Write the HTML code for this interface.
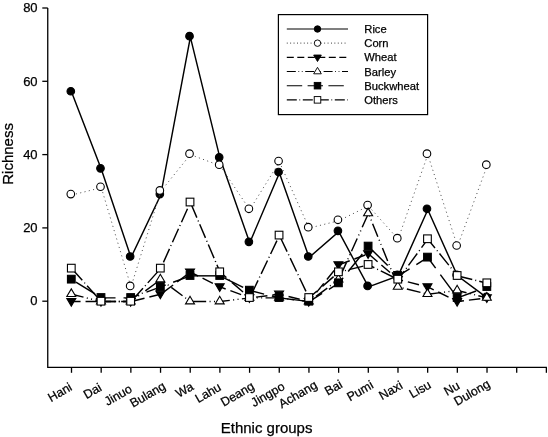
<!DOCTYPE html>
<html><head><meta charset="utf-8"><title>Richness by ethnic group</title>
<style>html,body{margin:0;padding:0;background:#fff;}svg{display:block;will-change:transform;}text{font-family:"Liberation Sans",sans-serif;fill:#000;stroke:#000;stroke-width:0.25px;}</style>
</head><body>
<svg width="548" height="437" viewBox="0 0 548 437">
<rect width="548" height="437" fill="#fff"/>
<path d="M47.75 8.00V367.3H546.9" fill="none" stroke="#000" stroke-width="1.3"/>
<line x1="42.3" y1="301.20" x2="47.75" y2="301.20" stroke="#000" stroke-width="1.3"/>
<text x="37.6" y="305.45" text-anchor="end" font-size="13">0</text>
<line x1="42.3" y1="227.90" x2="47.75" y2="227.90" stroke="#000" stroke-width="1.3"/>
<text x="37.6" y="232.15" text-anchor="end" font-size="13">20</text>
<line x1="42.3" y1="154.60" x2="47.75" y2="154.60" stroke="#000" stroke-width="1.3"/>
<text x="37.6" y="158.85" text-anchor="end" font-size="13">40</text>
<line x1="42.3" y1="81.30" x2="47.75" y2="81.30" stroke="#000" stroke-width="1.3"/>
<text x="37.6" y="85.55" text-anchor="end" font-size="13">60</text>
<line x1="42.3" y1="8.00" x2="47.75" y2="8.00" stroke="#000" stroke-width="1.3"/>
<text x="37.6" y="12.25" text-anchor="end" font-size="13">80</text>
<line x1="71.50" y1="367.3" x2="71.50" y2="372.8" stroke="#000" stroke-width="1.3"/>
<line x1="101.18" y1="367.3" x2="101.18" y2="372.8" stroke="#000" stroke-width="1.3"/>
<line x1="130.86" y1="367.3" x2="130.86" y2="372.8" stroke="#000" stroke-width="1.3"/>
<line x1="160.54" y1="367.3" x2="160.54" y2="372.8" stroke="#000" stroke-width="1.3"/>
<line x1="190.22" y1="367.3" x2="190.22" y2="372.8" stroke="#000" stroke-width="1.3"/>
<line x1="219.90" y1="367.3" x2="219.90" y2="372.8" stroke="#000" stroke-width="1.3"/>
<line x1="249.58" y1="367.3" x2="249.58" y2="372.8" stroke="#000" stroke-width="1.3"/>
<line x1="279.26" y1="367.3" x2="279.26" y2="372.8" stroke="#000" stroke-width="1.3"/>
<line x1="308.94" y1="367.3" x2="308.94" y2="372.8" stroke="#000" stroke-width="1.3"/>
<line x1="338.62" y1="367.3" x2="338.62" y2="372.8" stroke="#000" stroke-width="1.3"/>
<line x1="368.30" y1="367.3" x2="368.30" y2="372.8" stroke="#000" stroke-width="1.3"/>
<line x1="397.98" y1="367.3" x2="397.98" y2="372.8" stroke="#000" stroke-width="1.3"/>
<line x1="427.66" y1="367.3" x2="427.66" y2="372.8" stroke="#000" stroke-width="1.3"/>
<line x1="457.34" y1="367.3" x2="457.34" y2="372.8" stroke="#000" stroke-width="1.3"/>
<line x1="487.02" y1="367.3" x2="487.02" y2="372.8" stroke="#000" stroke-width="1.3"/>
<line x1="516.70" y1="367.3" x2="516.70" y2="372.8" stroke="#000" stroke-width="1.3"/>
<line x1="546.38" y1="367.3" x2="546.38" y2="372.8" stroke="#000" stroke-width="1.3"/>
<text x="73.00" y="389.5" text-anchor="end" font-size="12.4" transform="rotate(-30 73.00 389.5)">Hani</text>
<text x="102.68" y="390" text-anchor="end" font-size="12.4" transform="rotate(-30 102.68 390)">Dai</text>
<text x="133.06" y="391.3" text-anchor="end" font-size="12.4" transform="rotate(-30 133.06 391.3)">Jinuo</text>
<text x="166.54" y="388.5" text-anchor="end" font-size="12.4" transform="rotate(-30 166.54 388.5)">Bulang</text>
<text x="194.42" y="389" text-anchor="end" font-size="12.4" transform="rotate(-30 194.42 389)">Wa</text>
<text x="222.10" y="389.5" text-anchor="end" font-size="12.4" transform="rotate(-30 222.10 389.5)">Lahu</text>
<text x="255.28" y="388.6" text-anchor="end" font-size="12.4" transform="rotate(-30 255.28 388.6)">Deang</text>
<text x="285.76" y="388.9" text-anchor="end" font-size="12.4" transform="rotate(-30 285.76 388.9)">Jingpo</text>
<text x="318.14" y="387.4" text-anchor="end" font-size="12.4" transform="rotate(-30 318.14 387.4)">Achang</text>
<text x="343.32" y="386.8" text-anchor="end" font-size="12.4" transform="rotate(-30 343.32 386.8)">Bai</text>
<text x="374.40" y="387.4" text-anchor="end" font-size="12.4" transform="rotate(-30 374.40 387.4)">Pumi</text>
<text x="403.58" y="387.8" text-anchor="end" font-size="12.4" transform="rotate(-30 403.58 387.8)">Naxi</text>
<text x="432.06" y="387.2" text-anchor="end" font-size="12.4" transform="rotate(-30 432.06 387.2)">Lisu</text>
<text x="460.64" y="388.1" text-anchor="end" font-size="12.4" transform="rotate(-30 460.64 388.1)">Nu</text>
<text x="490.92" y="386.4" text-anchor="end" font-size="12.4" transform="rotate(-30 490.92 386.4)">Dulong</text>
<text x="266.6" y="433" text-anchor="middle" font-size="15">Ethnic groups</text>
<text transform="translate(12.6 153.9) rotate(-90)" text-anchor="middle" font-size="15">Richness</text>
<polyline points="71.65,92.19 101.33,169.32 131.01,257.47 160.69,195.03 190.37,37.09 220.05,158.30 249.73,242.78 279.41,172.99 309.09,257.47 338.77,231.76 368.45,286.86 398.13,275.84 427.81,209.72 457.49,275.84 487.17,297.88" fill="none" stroke="#000" stroke-width="1.45"/>
<circle cx="70.80" cy="91.24" r="3.80" fill="#000" stroke="#000" stroke-width="1.10"/>
<circle cx="100.48" cy="168.37" r="3.80" fill="#000" stroke="#000" stroke-width="1.10"/>
<circle cx="130.16" cy="256.52" r="3.80" fill="#000" stroke="#000" stroke-width="1.10"/>
<circle cx="159.84" cy="194.08" r="3.80" fill="#000" stroke="#000" stroke-width="1.10"/>
<circle cx="189.52" cy="36.14" r="3.80" fill="#000" stroke="#000" stroke-width="1.10"/>
<circle cx="219.20" cy="157.35" r="3.80" fill="#000" stroke="#000" stroke-width="1.10"/>
<circle cx="248.88" cy="241.83" r="3.80" fill="#000" stroke="#000" stroke-width="1.10"/>
<circle cx="278.56" cy="172.04" r="3.80" fill="#000" stroke="#000" stroke-width="1.10"/>
<circle cx="308.24" cy="256.52" r="3.80" fill="#000" stroke="#000" stroke-width="1.10"/>
<circle cx="337.92" cy="230.81" r="3.80" fill="#000" stroke="#000" stroke-width="1.10"/>
<circle cx="367.60" cy="285.91" r="3.80" fill="#000" stroke="#000" stroke-width="1.10"/>
<circle cx="397.28" cy="274.89" r="3.80" fill="#000" stroke="#000" stroke-width="1.10"/>
<circle cx="426.96" cy="208.78" r="3.80" fill="#000" stroke="#000" stroke-width="1.10"/>
<circle cx="456.64" cy="274.89" r="3.80" fill="#000" stroke="#000" stroke-width="1.10"/>
<circle cx="486.32" cy="296.93" r="3.80" fill="#000" stroke="#000" stroke-width="1.10"/>
<line x1="71.65" y1="195.03" x2="101.33" y2="187.69" stroke="#555" stroke-width="1.0" stroke-dasharray="1.1 3.3" stroke-dashoffset="0.00"/>
<line x1="101.33" y1="187.69" x2="131.01" y2="286.86" stroke="#555" stroke-width="1.0" stroke-dasharray="1.1 3.3" stroke-dashoffset="4.18"/>
<line x1="131.01" y1="286.86" x2="160.69" y2="191.36" stroke="#555" stroke-width="1.0" stroke-dasharray="1.1 3.3" stroke-dashoffset="2.09"/>
<line x1="160.69" y1="191.36" x2="190.37" y2="154.63" stroke="#555" stroke-width="1.0" stroke-dasharray="1.1 3.3" stroke-dashoffset="0.90"/>
<line x1="190.37" y1="154.63" x2="220.05" y2="165.65" stroke="#555" stroke-width="1.0" stroke-dasharray="1.1 3.3" stroke-dashoffset="4.12"/>
<line x1="220.05" y1="165.65" x2="249.73" y2="209.72" stroke="#555" stroke-width="1.0" stroke-dasharray="1.1 3.3" stroke-dashoffset="0.58"/>
<line x1="249.73" y1="209.72" x2="279.41" y2="161.98" stroke="#555" stroke-width="1.0" stroke-dasharray="1.1 3.3" stroke-dashoffset="0.92"/>
<line x1="279.41" y1="161.98" x2="309.09" y2="228.09" stroke="#555" stroke-width="1.0" stroke-dasharray="1.1 3.3" stroke-dashoffset="4.34"/>
<line x1="309.09" y1="228.09" x2="338.77" y2="220.74" stroke="#555" stroke-width="1.0" stroke-dasharray="1.1 3.3" stroke-dashoffset="2.01"/>
<line x1="338.77" y1="220.74" x2="368.45" y2="206.05" stroke="#555" stroke-width="1.0" stroke-dasharray="1.1 3.3" stroke-dashoffset="1.78"/>
<line x1="368.45" y1="206.05" x2="398.13" y2="239.11" stroke="#555" stroke-width="1.0" stroke-dasharray="1.1 3.3" stroke-dashoffset="4.10"/>
<line x1="398.13" y1="239.11" x2="427.81" y2="154.63" stroke="#555" stroke-width="1.0" stroke-dasharray="1.1 3.3" stroke-dashoffset="0.13"/>
<line x1="427.81" y1="154.63" x2="457.49" y2="246.45" stroke="#555" stroke-width="1.0" stroke-dasharray="1.1 3.3" stroke-dashoffset="1.67"/>
<line x1="457.49" y1="246.45" x2="487.17" y2="165.65" stroke="#555" stroke-width="1.0" stroke-dasharray="1.1 3.3" stroke-dashoffset="1.37"/>
<circle cx="70.80" cy="194.08" r="3.80" fill="#fff" stroke="#000" stroke-width="1.10"/>
<circle cx="100.48" cy="186.74" r="3.80" fill="#fff" stroke="#000" stroke-width="1.10"/>
<circle cx="130.16" cy="285.91" r="3.80" fill="#fff" stroke="#000" stroke-width="1.10"/>
<circle cx="159.84" cy="190.41" r="3.80" fill="#fff" stroke="#000" stroke-width="1.10"/>
<circle cx="189.52" cy="153.68" r="3.80" fill="#fff" stroke="#000" stroke-width="1.10"/>
<circle cx="219.20" cy="164.70" r="3.80" fill="#fff" stroke="#000" stroke-width="1.10"/>
<circle cx="248.88" cy="208.78" r="3.80" fill="#fff" stroke="#000" stroke-width="1.10"/>
<circle cx="278.56" cy="161.03" r="3.80" fill="#fff" stroke="#000" stroke-width="1.10"/>
<circle cx="308.24" cy="227.14" r="3.80" fill="#fff" stroke="#000" stroke-width="1.10"/>
<circle cx="337.92" cy="219.79" r="3.80" fill="#fff" stroke="#000" stroke-width="1.10"/>
<circle cx="367.60" cy="205.10" r="3.80" fill="#fff" stroke="#000" stroke-width="1.10"/>
<circle cx="397.28" cy="238.16" r="3.80" fill="#fff" stroke="#000" stroke-width="1.10"/>
<circle cx="426.96" cy="153.68" r="3.80" fill="#fff" stroke="#000" stroke-width="1.10"/>
<circle cx="456.64" cy="245.50" r="3.80" fill="#fff" stroke="#000" stroke-width="1.10"/>
<circle cx="486.32" cy="164.70" r="3.80" fill="#fff" stroke="#000" stroke-width="1.10"/>
<line x1="71.65" y1="301.55" x2="101.33" y2="301.55" stroke="#000" stroke-width="1.45" stroke-dasharray="11.5 5" stroke-dashoffset="2.60"/>
<line x1="101.33" y1="301.55" x2="131.01" y2="301.55" stroke="#000" stroke-width="1.45" stroke-dasharray="11.5 5" stroke-dashoffset="13.18"/>
<line x1="131.01" y1="301.55" x2="160.69" y2="294.20" stroke="#000" stroke-width="1.45" stroke-dasharray="11.5 5" stroke-dashoffset="14.10"/>
<line x1="160.69" y1="294.20" x2="190.37" y2="272.17" stroke="#000" stroke-width="1.45" stroke-dasharray="11.5 5" stroke-dashoffset="12.50"/>
<line x1="190.37" y1="272.17" x2="220.05" y2="286.86" stroke="#000" stroke-width="1.45" stroke-dasharray="11.5 5" stroke-dashoffset="2.90"/>
<line x1="220.05" y1="286.86" x2="249.73" y2="297.88" stroke="#000" stroke-width="1.45" stroke-dasharray="11.5 5" stroke-dashoffset="5.50"/>
<line x1="249.73" y1="297.88" x2="279.41" y2="294.20" stroke="#000" stroke-width="1.45" stroke-dasharray="11.5 5" stroke-dashoffset="10.18"/>
<line x1="279.41" y1="294.20" x2="309.09" y2="301.55" stroke="#000" stroke-width="1.45" stroke-dasharray="11.5 5" stroke-dashoffset="7.09"/>
<line x1="309.09" y1="301.55" x2="338.77" y2="264.82" stroke="#000" stroke-width="1.45" stroke-dasharray="11.5 5" stroke-dashoffset="4.66"/>
<line x1="338.77" y1="264.82" x2="368.45" y2="253.80" stroke="#000" stroke-width="1.45" stroke-dasharray="11.5 5" stroke-dashoffset="16.30"/>
<line x1="368.45" y1="253.80" x2="398.13" y2="279.51" stroke="#000" stroke-width="1.45" stroke-dasharray="11.5 5" stroke-dashoffset="15.90"/>
<line x1="398.13" y1="279.51" x2="427.81" y2="286.86" stroke="#000" stroke-width="1.45" stroke-dasharray="11.5 5" stroke-dashoffset="6.50"/>
<line x1="427.81" y1="286.86" x2="457.49" y2="301.55" stroke="#000" stroke-width="1.45" stroke-dasharray="11.5 5" stroke-dashoffset="4.89"/>
<line x1="457.49" y1="301.55" x2="487.17" y2="297.88" stroke="#000" stroke-width="1.45" stroke-dasharray="11.5 5" stroke-dashoffset="5.00"/>
<path d="M66.80 298.50H75.80L71.30 306.10Z" fill="#000" stroke="#000" stroke-width="1.10" stroke-linejoin="miter"/>
<path d="M96.48 298.50H105.48L100.98 306.10Z" fill="#000" stroke="#000" stroke-width="1.10" stroke-linejoin="miter"/>
<path d="M126.16 298.50H135.16L130.66 306.10Z" fill="#000" stroke="#000" stroke-width="1.10" stroke-linejoin="miter"/>
<path d="M155.84 291.15H164.84L160.34 298.75Z" fill="#000" stroke="#000" stroke-width="1.10" stroke-linejoin="miter"/>
<path d="M185.52 269.12H194.52L190.02 276.72Z" fill="#000" stroke="#000" stroke-width="1.10" stroke-linejoin="miter"/>
<path d="M215.20 283.81H224.20L219.70 291.41Z" fill="#000" stroke="#000" stroke-width="1.10" stroke-linejoin="miter"/>
<path d="M244.88 294.83H253.88L249.38 302.43Z" fill="#000" stroke="#000" stroke-width="1.10" stroke-linejoin="miter"/>
<path d="M274.56 291.15H283.56L279.06 298.75Z" fill="#000" stroke="#000" stroke-width="1.10" stroke-linejoin="miter"/>
<path d="M304.24 298.50H313.24L308.74 306.10Z" fill="#000" stroke="#000" stroke-width="1.10" stroke-linejoin="miter"/>
<path d="M333.92 261.77H342.92L338.42 269.37Z" fill="#000" stroke="#000" stroke-width="1.10" stroke-linejoin="miter"/>
<path d="M363.60 250.75H372.60L368.10 258.35Z" fill="#000" stroke="#000" stroke-width="1.10" stroke-linejoin="miter"/>
<path d="M393.28 276.46H402.28L397.78 284.06Z" fill="#000" stroke="#000" stroke-width="1.10" stroke-linejoin="miter"/>
<path d="M422.96 283.81H431.96L427.46 291.41Z" fill="#000" stroke="#000" stroke-width="1.10" stroke-linejoin="miter"/>
<path d="M452.64 298.50H461.64L457.14 306.10Z" fill="#000" stroke="#000" stroke-width="1.10" stroke-linejoin="miter"/>
<path d="M482.32 294.83H491.32L486.82 302.43Z" fill="#000" stroke="#000" stroke-width="1.10" stroke-linejoin="miter"/>
<line x1="71.65" y1="294.20" x2="101.33" y2="301.55" stroke="#000" stroke-width="1.45" stroke-dasharray="14 3.4 1 3.4 1 3.4" stroke-dashoffset="1.80"/>
<line x1="101.33" y1="301.55" x2="131.01" y2="301.55" stroke="#000" stroke-width="1.45" stroke-dasharray="14 3.4 1 3.4 1 3.4" stroke-dashoffset="4.38"/>
<line x1="131.01" y1="301.55" x2="160.69" y2="279.51" stroke="#000" stroke-width="1.45" stroke-dasharray="14 3.4 1 3.4 1 3.4" stroke-dashoffset="8.30"/>
<line x1="160.69" y1="279.51" x2="190.37" y2="301.55" stroke="#000" stroke-width="1.45" stroke-dasharray="14 3.4 1 3.4 1 3.4" stroke-dashoffset="13.00"/>
<line x1="190.37" y1="301.55" x2="220.05" y2="301.55" stroke="#000" stroke-width="1.45" stroke-dasharray="14 3.4 1 3.4 1 3.4" stroke-dashoffset="24.40"/>
<line x1="220.05" y1="301.55" x2="249.73" y2="297.88" stroke="#000" stroke-width="1.45" stroke-dasharray="14 3.4 1 3.4 1 3.4" stroke-dashoffset="4.20"/>
<line x1="249.73" y1="297.88" x2="279.41" y2="297.88" stroke="#000" stroke-width="1.45" stroke-dasharray="14 3.4 1 3.4 1 3.4" stroke-dashoffset="10.38"/>
<line x1="279.41" y1="297.88" x2="309.09" y2="301.55" stroke="#000" stroke-width="1.45" stroke-dasharray="14 3.4 1 3.4 1 3.4" stroke-dashoffset="13.86"/>
<line x1="309.09" y1="301.55" x2="338.77" y2="279.51" stroke="#000" stroke-width="1.45" stroke-dasharray="14 3.4 1 3.4 1 3.4" stroke-dashoffset="17.56"/>
<line x1="338.77" y1="279.51" x2="368.45" y2="213.40" stroke="#000" stroke-width="1.45" stroke-dasharray="14 3.4 1 3.4 1 3.4" stroke-dashoffset="21.40"/>
<line x1="368.45" y1="213.40" x2="398.13" y2="286.86" stroke="#000" stroke-width="1.45" stroke-dasharray="14 3.4 1 3.4 1 3.4" stroke-dashoffset="15.10"/>
<line x1="398.13" y1="286.86" x2="427.81" y2="294.20" stroke="#000" stroke-width="1.45" stroke-dasharray="14 3.4 1 3.4 1 3.4" stroke-dashoffset="17.20"/>
<line x1="427.81" y1="294.20" x2="457.49" y2="290.53" stroke="#000" stroke-width="1.45" stroke-dasharray="14 3.4 1 3.4 1 3.4" stroke-dashoffset="1.01"/>
<line x1="457.49" y1="290.53" x2="487.17" y2="297.88" stroke="#000" stroke-width="1.45" stroke-dasharray="14 3.4 1 3.4 1 3.4" stroke-dashoffset="4.71"/>
<path d="M66.80 296.55H75.80L71.30 288.95Z" fill="#fff" stroke="#000" stroke-width="1.10" stroke-linejoin="miter"/>
<path d="M96.48 303.90H105.48L100.98 296.30Z" fill="#fff" stroke="#000" stroke-width="1.10" stroke-linejoin="miter"/>
<path d="M126.16 303.90H135.16L130.66 296.30Z" fill="#fff" stroke="#000" stroke-width="1.10" stroke-linejoin="miter"/>
<path d="M155.84 281.86H164.84L160.34 274.26Z" fill="#fff" stroke="#000" stroke-width="1.10" stroke-linejoin="miter"/>
<path d="M185.52 303.90H194.52L190.02 296.30Z" fill="#fff" stroke="#000" stroke-width="1.10" stroke-linejoin="miter"/>
<path d="M215.20 303.90H224.20L219.70 296.30Z" fill="#fff" stroke="#000" stroke-width="1.10" stroke-linejoin="miter"/>
<path d="M244.88 300.23H253.88L249.38 292.63Z" fill="#fff" stroke="#000" stroke-width="1.10" stroke-linejoin="miter"/>
<path d="M274.56 300.23H283.56L279.06 292.63Z" fill="#fff" stroke="#000" stroke-width="1.10" stroke-linejoin="miter"/>
<path d="M304.24 303.90H313.24L308.74 296.30Z" fill="#fff" stroke="#000" stroke-width="1.10" stroke-linejoin="miter"/>
<path d="M333.92 281.86H342.92L338.42 274.26Z" fill="#fff" stroke="#000" stroke-width="1.10" stroke-linejoin="miter"/>
<path d="M363.60 215.75H372.60L368.10 208.15Z" fill="#fff" stroke="#000" stroke-width="1.10" stroke-linejoin="miter"/>
<path d="M393.28 289.21H402.28L397.78 281.61Z" fill="#fff" stroke="#000" stroke-width="1.10" stroke-linejoin="miter"/>
<path d="M422.96 296.55H431.96L427.46 288.95Z" fill="#fff" stroke="#000" stroke-width="1.10" stroke-linejoin="miter"/>
<path d="M452.64 292.88H461.64L457.14 285.28Z" fill="#fff" stroke="#000" stroke-width="1.10" stroke-linejoin="miter"/>
<path d="M482.32 300.23H491.32L486.82 292.63Z" fill="#fff" stroke="#000" stroke-width="1.10" stroke-linejoin="miter"/>
<line x1="71.65" y1="279.51" x2="101.33" y2="297.88" stroke="#000" stroke-width="1.45" stroke-dasharray="22.5 8" stroke-dashoffset="25.50"/>
<line x1="101.33" y1="297.88" x2="131.01" y2="297.88" stroke="#000" stroke-width="1.45" stroke-dasharray="22.5 8" stroke-dashoffset="8.30"/>
<line x1="131.01" y1="297.88" x2="160.69" y2="286.86" stroke="#000" stroke-width="1.45" stroke-dasharray="22.5 8" stroke-dashoffset="14.00"/>
<line x1="160.69" y1="286.86" x2="190.37" y2="275.84" stroke="#000" stroke-width="1.45" stroke-dasharray="22.5 8" stroke-dashoffset="17.20"/>
<line x1="190.37" y1="275.84" x2="220.05" y2="275.84" stroke="#000" stroke-width="1.45" stroke-dasharray="22.5 8" stroke-dashoffset="27.10"/>
<line x1="220.05" y1="275.84" x2="249.73" y2="290.53" stroke="#000" stroke-width="1.45" stroke-dasharray="22.5 8" stroke-dashoffset="27.20"/>
<line x1="249.73" y1="290.53" x2="279.41" y2="297.88" stroke="#000" stroke-width="1.45" stroke-dasharray="22.5 8" stroke-dashoffset="7.70"/>
<line x1="279.41" y1="297.88" x2="309.09" y2="301.55" stroke="#000" stroke-width="1.45" stroke-dasharray="22.5 8" stroke-dashoffset="7.77"/>
<line x1="309.09" y1="301.55" x2="338.77" y2="283.19" stroke="#000" stroke-width="1.45" stroke-dasharray="22.5 8" stroke-dashoffset="7.18"/>
<line x1="338.77" y1="283.19" x2="368.45" y2="246.45" stroke="#000" stroke-width="1.45" stroke-dasharray="22.5 8" stroke-dashoffset="15.50"/>
<line x1="368.45" y1="246.45" x2="398.13" y2="275.84" stroke="#000" stroke-width="1.45" stroke-dasharray="22.5 8" stroke-dashoffset="25.90"/>
<line x1="398.13" y1="275.84" x2="427.81" y2="257.47" stroke="#000" stroke-width="1.45" stroke-dasharray="22.5 8" stroke-dashoffset="9.07"/>
<line x1="427.81" y1="257.47" x2="457.49" y2="297.88" stroke="#000" stroke-width="1.45" stroke-dasharray="22.5 8" stroke-dashoffset="9.30"/>
<line x1="457.49" y1="297.88" x2="487.17" y2="286.86" stroke="#000" stroke-width="1.45" stroke-dasharray="22.5 8" stroke-dashoffset="2.61"/>
<rect x="67.45" y="275.31" width="7.70" height="7.70" fill="#000" stroke="#000" stroke-width="1.10"/>
<rect x="97.13" y="293.68" width="7.70" height="7.70" fill="#000" stroke="#000" stroke-width="1.10"/>
<rect x="126.81" y="293.68" width="7.70" height="7.70" fill="#000" stroke="#000" stroke-width="1.10"/>
<rect x="156.49" y="282.66" width="7.70" height="7.70" fill="#000" stroke="#000" stroke-width="1.10"/>
<rect x="186.17" y="271.64" width="7.70" height="7.70" fill="#000" stroke="#000" stroke-width="1.10"/>
<rect x="215.85" y="271.64" width="7.70" height="7.70" fill="#000" stroke="#000" stroke-width="1.10"/>
<rect x="245.53" y="286.33" width="7.70" height="7.70" fill="#000" stroke="#000" stroke-width="1.10"/>
<rect x="275.21" y="293.68" width="7.70" height="7.70" fill="#000" stroke="#000" stroke-width="1.10"/>
<rect x="304.89" y="297.35" width="7.70" height="7.70" fill="#000" stroke="#000" stroke-width="1.10"/>
<rect x="334.57" y="278.98" width="7.70" height="7.70" fill="#000" stroke="#000" stroke-width="1.10"/>
<rect x="364.25" y="242.25" width="7.70" height="7.70" fill="#000" stroke="#000" stroke-width="1.10"/>
<rect x="393.93" y="271.64" width="7.70" height="7.70" fill="#000" stroke="#000" stroke-width="1.10"/>
<rect x="423.61" y="253.27" width="7.70" height="7.70" fill="#000" stroke="#000" stroke-width="1.10"/>
<rect x="453.29" y="293.68" width="7.70" height="7.70" fill="#000" stroke="#000" stroke-width="1.10"/>
<rect x="482.97" y="282.66" width="7.70" height="7.70" fill="#000" stroke="#000" stroke-width="1.10"/>
<line x1="71.65" y1="268.49" x2="101.33" y2="301.55" stroke="#000" stroke-width="1.45" stroke-dasharray="14.8 3.1 1 3.1" stroke-dashoffset="20.90"/>
<line x1="101.33" y1="301.55" x2="131.01" y2="301.55" stroke="#000" stroke-width="1.45" stroke-dasharray="14.8 3.1 1 3.1" stroke-dashoffset="0.43"/>
<line x1="131.01" y1="301.55" x2="160.69" y2="268.49" stroke="#000" stroke-width="1.45" stroke-dasharray="14.8 3.1 1 3.1" stroke-dashoffset="18.90"/>
<line x1="160.69" y1="268.49" x2="190.37" y2="202.38" stroke="#000" stroke-width="1.45" stroke-dasharray="14.8 3.1 1 3.1" stroke-dashoffset="15.30"/>
<line x1="190.37" y1="202.38" x2="220.05" y2="272.17" stroke="#000" stroke-width="1.45" stroke-dasharray="14.8 3.1 1 3.1" stroke-dashoffset="20.20"/>
<line x1="220.05" y1="272.17" x2="249.73" y2="297.88" stroke="#000" stroke-width="1.45" stroke-dasharray="14.8 3.1 1 3.1" stroke-dashoffset="6.40"/>
<line x1="249.73" y1="297.88" x2="279.41" y2="235.44" stroke="#000" stroke-width="1.45" stroke-dasharray="14.8 3.1 1 3.1" stroke-dashoffset="17.40"/>
<line x1="279.41" y1="235.44" x2="309.09" y2="297.88" stroke="#000" stroke-width="1.45" stroke-dasharray="14.8 3.1 1 3.1" stroke-dashoffset="18.90"/>
<line x1="309.09" y1="297.88" x2="338.77" y2="272.17" stroke="#000" stroke-width="1.45" stroke-dasharray="14.8 3.1 1 3.1" stroke-dashoffset="4.38"/>
<line x1="338.77" y1="272.17" x2="368.45" y2="264.82" stroke="#000" stroke-width="1.45" stroke-dasharray="14.8 3.1 1 3.1" stroke-dashoffset="11.50"/>
<line x1="368.45" y1="264.82" x2="398.13" y2="279.51" stroke="#000" stroke-width="1.45" stroke-dasharray="14.8 3.1 1 3.1" stroke-dashoffset="8.22"/>
<line x1="398.13" y1="279.51" x2="427.81" y2="239.11" stroke="#000" stroke-width="1.45" stroke-dasharray="14.8 3.1 1 3.1" stroke-dashoffset="4.50"/>
<line x1="427.81" y1="239.11" x2="457.49" y2="275.84" stroke="#000" stroke-width="1.45" stroke-dasharray="14.8 3.1 1 3.1" stroke-dashoffset="3.40"/>
<line x1="457.49" y1="275.84" x2="487.17" y2="283.19" stroke="#000" stroke-width="1.45" stroke-dasharray="14.8 3.1 1 3.1" stroke-dashoffset="21.60"/>
<rect x="67.45" y="264.29" width="7.70" height="7.70" fill="#fff" stroke="#000" stroke-width="1.10"/>
<rect x="97.13" y="297.35" width="7.70" height="7.70" fill="#fff" stroke="#000" stroke-width="1.10"/>
<rect x="126.81" y="297.35" width="7.70" height="7.70" fill="#fff" stroke="#000" stroke-width="1.10"/>
<rect x="156.49" y="264.29" width="7.70" height="7.70" fill="#fff" stroke="#000" stroke-width="1.10"/>
<rect x="186.17" y="198.18" width="7.70" height="7.70" fill="#fff" stroke="#000" stroke-width="1.10"/>
<rect x="215.85" y="267.97" width="7.70" height="7.70" fill="#fff" stroke="#000" stroke-width="1.10"/>
<rect x="245.53" y="293.68" width="7.70" height="7.70" fill="#fff" stroke="#000" stroke-width="1.10"/>
<rect x="275.21" y="231.24" width="7.70" height="7.70" fill="#fff" stroke="#000" stroke-width="1.10"/>
<rect x="304.89" y="293.68" width="7.70" height="7.70" fill="#fff" stroke="#000" stroke-width="1.10"/>
<rect x="334.57" y="267.97" width="7.70" height="7.70" fill="#fff" stroke="#000" stroke-width="1.10"/>
<rect x="364.25" y="260.62" width="7.70" height="7.70" fill="#fff" stroke="#000" stroke-width="1.10"/>
<rect x="393.93" y="275.31" width="7.70" height="7.70" fill="#fff" stroke="#000" stroke-width="1.10"/>
<rect x="423.61" y="234.91" width="7.70" height="7.70" fill="#fff" stroke="#000" stroke-width="1.10"/>
<rect x="453.29" y="271.64" width="7.70" height="7.70" fill="#fff" stroke="#000" stroke-width="1.10"/>
<rect x="482.97" y="278.98" width="7.70" height="7.70" fill="#fff" stroke="#000" stroke-width="1.10"/>
<rect x="278.4" y="14.6" width="149.2" height="100" fill="#fff" stroke="#000" stroke-width="1.2"/>
<line x1="286.8" y1="29.00" x2="348" y2="29.00" stroke="#000" stroke-width="1.1"/>
<circle cx="317.50" cy="29.00" r="3.23" fill="#000" stroke="#000" stroke-width="0.94"/>
<text x="364.3" y="32.90" font-size="11.2">Rice</text>
<line x1="286.8" y1="43.17" x2="348" y2="43.17" stroke="#555" stroke-width="1.1" stroke-dasharray="0.9 2.5"/>
<circle cx="317.50" cy="43.17" r="3.23" fill="#fff" stroke="#000" stroke-width="0.94"/>
<text x="364.3" y="47.10" font-size="11.2">Corn</text>
<line x1="286.8" y1="57.34" x2="348" y2="57.34" stroke="#000" stroke-width="1.1" stroke-dasharray="7 3.5"/>
<path d="M313.68 55.05H321.32L317.50 61.51Z" fill="#000" stroke="#000" stroke-width="0.94" stroke-linejoin="miter"/>
<text x="364.3" y="61.30" font-size="11.2">Wheat</text>
<line x1="286.8" y1="71.51" x2="348" y2="71.51" stroke="#000" stroke-width="1.1" stroke-dasharray="9 2.6 0.8 2.6 0.8 2.6"/>
<path d="M313.68 73.80H321.32L317.50 67.34Z" fill="#fff" stroke="#000" stroke-width="0.94" stroke-linejoin="miter"/>
<text x="364.3" y="75.50" font-size="11.2">Barley</text>
<line x1="286.8" y1="85.68" x2="348" y2="85.68" stroke="#000" stroke-width="1.1" stroke-dasharray="15.4 5.4"/>
<rect x="314.23" y="82.41" width="6.54" height="6.54" fill="#000" stroke="#000" stroke-width="0.94"/>
<text x="364.3" y="89.70" font-size="11.2">Buckwheat</text>
<line x1="286.8" y1="99.85" x2="348" y2="99.85" stroke="#000" stroke-width="1.1" stroke-dasharray="10 2.6 0.8 2.6"/>
<rect x="314.23" y="96.58" width="6.54" height="6.54" fill="#fff" stroke="#000" stroke-width="0.94"/>
<text x="364.3" y="103.90" font-size="11.2">Others</text>
</svg>
</body></html>
